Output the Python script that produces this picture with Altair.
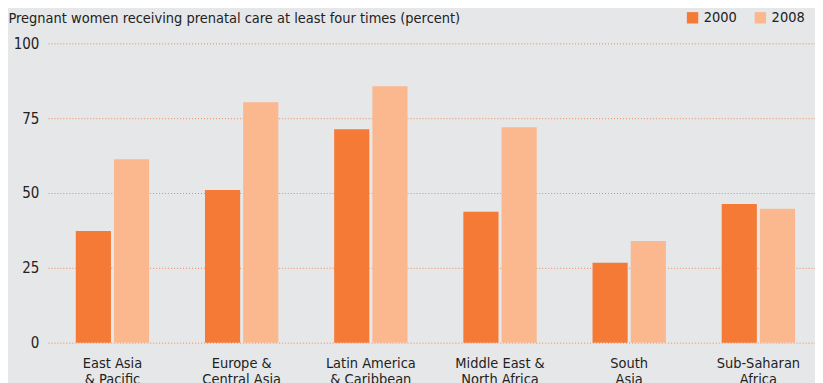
import altair as alt
import pandas as pd

regions = ["East Asia|& Pacific", "Europe &|Central Asia", "Latin America|& Caribbean",
           "Middle East &|North Africa", "South|Asia", "Sub-Saharan|Africa"]
years = ["2000", "2008"]
v2000 = [37.3, 51.0, 71.3, 43.7, 26.7, 46.3]
v2008 = [61.3, 80.3, 85.7, 72.0, 34.0, 44.7]

rows = []
for r, a, b in zip(regions, v2000, v2008):
    rows.append({"region": r, "year": "2000", "value": a})
    rows.append({"region": r, "year": "2008", "value": b})
df = pd.DataFrame(rows)

FONT = "DejaVu Sans Condensed"
colors = ["#f47a36", "#fbb88e"]

chart = alt.Chart(df).mark_bar().encode(
    x=alt.X("region:N", sort=regions, title=None,
            scale=alt.Scale(paddingInner=0.432, paddingOuter=0.216, range=[-1, 776]),
            axis=alt.Axis(labelAngle=0, ticks=False, domain=False,
                          labelExpr="split(datum.label, '|')",
                          labelFontSize=14.5, labelColor="#222222", labelFont=FONT,
                          labelPadding=14, labelLineHeight=16)),
    xOffset=alt.XOffset("year:N", sort=years, scale=alt.Scale(paddingInner=0.08, paddingOuter=0)),
    y=alt.Y("value:Q", scale=alt.Scale(domain=[0, 100]),
            axis=alt.Axis(values=[0, 25, 50, 75, 100], ticks=False, domain=False,
                          grid=True, gridDash=[1, 2], gridColor="#f08a50", gridWidth=1,
                          labelFontSize=15, labelColor="#222222", labelFont=FONT,
                          labelPadding=10,
                          title="Pregnant women receiving prenatal care at least four times (percent)",
                          titleAngle=0, titleX=-41, titleY=-25, titleAlign="left",
                          titleBaseline="middle", titleFontSize=14.5, titleFontWeight="normal",
                          titleFont=FONT, titleColor="#222222")),
    color=alt.Color("year:N", sort=years, scale=alt.Scale(domain=years, range=colors),
                    legend=alt.Legend(title=None, orient="none", direction="horizontal",
                                      legendX=638, legendY=-33, symbolType="square",
                                      symbolSize=130, symbolOpacity=1, symbolStrokeWidth=0,
                                      labelFontSize=14.5, labelFont=FONT, labelColor="#222222",
                                      columnPadding=16, labelOffset=4)),
).properties(
    width=766, height=300,
    background="#e6e7e9",
    autosize=alt.AutoSizeParams(type="none"),
    padding={"left": 41, "top": 35, "right": 2, "bottom": 40},
).configure_view(stroke=None)

chart.save("out.html", embed_options={"renderer": "svg", "actions": False})
